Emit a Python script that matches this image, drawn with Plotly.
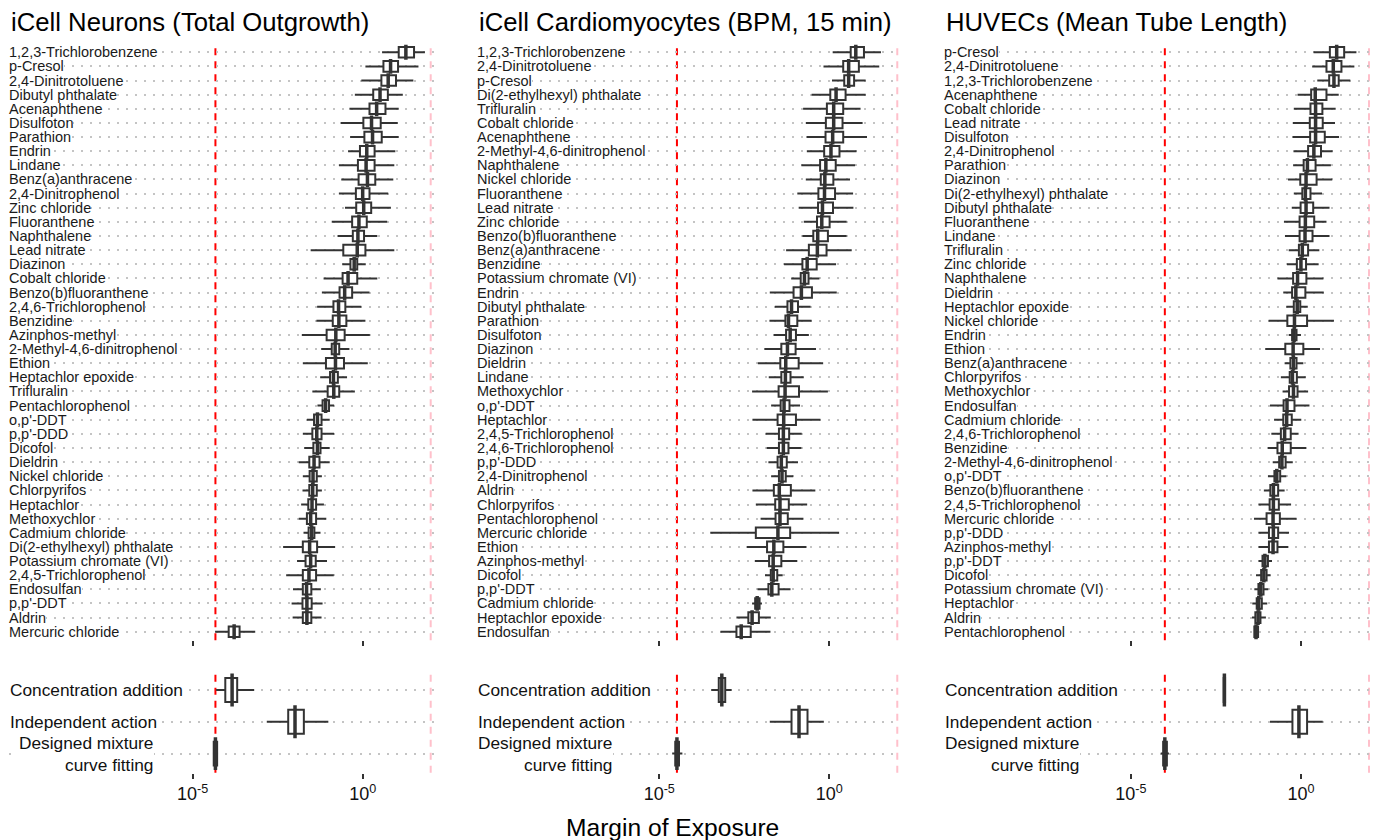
import plotly.graph_objects as go

FONT = "Liberation Sans, Arial, sans-serif"
BOX = "#333333"

titles = ["iCell Neurons (Total Outgrowth)",
          "iCell Cardiomyocytes (BPM, 15 min)",
          "HUVECs (Mean Tube Length)"]

# ---------------- iCell Neurons (log10 Margin of Exposure) ----------------
neu_names = ["1,2,3-Trichlorobenzene", "p-Cresol", "2,4-Dinitrotoluene", "Dibutyl phthalate",
             "Acenaphthene", "Disulfoton", "Parathion", "Endrin", "Lindane", "Benz(a)anthracene",
             "2,4-Dinitrophenol", "Zinc chloride", "Fluoranthene", "Naphthalene", "Lead nitrate",
             "Diazinon", "Cobalt chloride", "Benzo(b)fluoranthene", "2,4,6-Trichlorophenol",
             "Benzidine", "Azinphos-methyl", "2-Methyl-4,6-dinitrophenol", "Ethion",
             "Heptachlor epoxide", "Trifluralin", "Pentachlorophenol", "o,p'-DDT", "p,p'-DDD",
             "Dicofol", "Dieldrin", "Nickel chloride", "Chlorpyrifos", "Heptachlor",
             "Methoxychlor", "Cadmium chloride", "Di(2-ethylhexyl) phthalate",
             "Potassium chromate (VI)", "2,4,5-Trichlorophenol", "Endosulfan", "p,p'-DDT",
             "Aldrin", "Mercuric chloride"]
neu_lo = [0.57, 0.08, -0.04, -0.23, -0.39, -0.65, -0.37, -0.43, -0.70, -0.63, -0.70, -0.52,
          -0.91, -0.74, -1.53, -0.60, -1.15, -1.20, -1.34, -1.36, -1.79, -1.22, -1.76, -1.25,
          -1.48, -1.33, -1.64, -1.76, -1.72, -1.88, -1.76, -1.77, -1.81, -1.88, -1.74, -2.34,
          -1.93, -2.25, -2.05, -2.09, -2.06, -4.34]
neu_q1 = [1.06, 0.61, 0.55, 0.31, 0.20, 0.02, 0.05, -0.08, -0.14, -0.12, -0.20, -0.19,
          -0.31, -0.29, -0.57, -0.36, -0.59, -0.68, -0.86, -0.88, -1.06, -0.91, -1.08, -0.96,
          -1.03, -1.18, -1.43, -1.48, -1.45, -1.57, -1.56, -1.57, -1.60, -1.64, -1.59, -1.76,
          -1.68, -1.76, -1.76, -1.77, -1.76, -3.94]
neu_med = [1.27, 0.82, 0.75, 0.51, 0.41, 0.26, 0.29, 0.12, 0.10, 0.14, 0.00, 0.03,
           -0.11, -0.14, -0.16, -0.25, -0.43, -0.53, -0.71, -0.70, -0.79, -0.81, -0.80, -0.86,
           -0.85, -1.09, -1.33, -1.35, -1.33, -1.43, -1.46, -1.47, -1.49, -1.53, -1.50, -1.56,
           -1.53, -1.58, -1.65, -1.64, -1.64, -3.78]
neu_q3 = [1.51, 1.04, 0.98, 0.74, 0.67, 0.53, 0.56, 0.35, 0.35, 0.37, 0.20, 0.25,
          0.12, 0.04, 0.08, -0.16, -0.16, -0.31, -0.51, -0.48, -0.53, -0.69, -0.55, -0.73,
          -0.69, -0.99, -1.21, -1.21, -1.24, -1.27, -1.35, -1.35, -1.37, -1.37, -1.42, -1.34,
          -1.38, -1.37, -1.51, -1.50, -1.51, -3.62]
neu_hi = [1.83, 1.64, 1.49, 1.18, 1.06, 1.03, 1.06, 0.96, 0.93, 0.90, 0.75, 0.83,
          0.72, 0.43, 0.93, 0.09, 0.43, 0.20, -0.04, 0.08, 0.21, -0.39, 0.15, -0.46,
          -0.23, -0.84, -0.97, -0.84, -0.97, -0.97, -1.20, -1.20, -1.14, -1.07, -1.24, -0.81,
          -1.05, -0.85, -1.23, -1.18, -1.21, -3.16]

# ---------------- iCell Cardiomyocytes ----------------
car_names = ["1,2,3-Trichlorobenzene", "2,4-Dinitrotoluene", "p-Cresol",
             "Di(2-ethylhexyl) phthalate", "Trifluralin", "Cobalt chloride", "Acenaphthene",
             "2-Methyl-4,6-dinitrophenol", "Naphthalene", "Nickel chloride", "Fluoranthene",
             "Lead nitrate", "Zinc chloride", "Benzo(b)fluoranthene", "Benz(a)anthracene",
             "Benzidine", "Potassium chromate (VI)", "Endrin", "Dibutyl phthalate", "Parathion",
             "Disulfoton", "Diazinon", "Dieldrin", "Lindane", "Methoxychlor", "o,p'-DDT",
             "Heptachlor", "2,4,5-Trichlorophenol", "2,4,6-Trichlorophenol", "p,p'-DDD",
             "2,4-Dinitrophenol", "Aldrin", "Chlorpyrifos", "Pentachlorophenol",
             "Mercuric chloride", "Ethion", "Azinphos-methyl", "Dicofol", "p,p'-DDT",
             "Cadmium chloride", "Heptachlor epoxide", "Endosulfan"]
car_lo = [0.10, -0.17, 0.08, -0.52, -0.77, -0.69, -0.67, -0.66, -0.82, -0.69, -0.94, -0.90,
          -0.75, -0.79, -1.27, -1.33, -1.12, -1.75, -1.60, -1.76, -1.64, -1.91, -2.10, -1.78,
          -2.27, -1.71, -2.26, -1.87, -1.84, -1.79, -1.71, -2.26, -2.16, -2.02, -3.50, -2.43,
          -2.19, -1.89, -2.11, -2.27, -2.73, -3.20]
car_q1 = [0.63, 0.41, 0.44, 0.03, -0.07, -0.10, -0.11, -0.15, -0.27, -0.25, -0.32, -0.33,
          -0.36, -0.47, -0.60, -0.79, -0.84, -1.05, -1.23, -1.29, -1.27, -1.41, -1.44, -1.41,
          -1.49, -1.43, -1.52, -1.48, -1.48, -1.52, -1.48, -1.63, -1.59, -1.58, -2.16, -1.83,
          -1.77, -1.72, -1.79, -2.18, -2.38, -2.73]
car_med = [0.78, 0.57, 0.57, 0.20, 0.13, 0.13, 0.10, 0.05, -0.10, -0.13, -0.14, -0.20,
           -0.22, -0.34, -0.35, -0.65, -0.73, -0.82, -1.11, -1.20, -1.15, -1.23, -1.28, -1.29,
           -1.30, -1.33, -1.34, -1.35, -1.35, -1.41, -1.39, -1.47, -1.45, -1.45, -1.51, -1.63,
           -1.65, -1.65, -1.69, -2.12, -2.27, -2.59]
car_q3 = [1.02, 0.87, 0.73, 0.48, 0.41, 0.39, 0.41, 0.30, 0.19, 0.12, 0.17, 0.11,
          0.01, -0.04, -0.08, -0.37, -0.61, -0.51, -0.92, -0.94, -0.98, -0.99, -0.90, -1.14,
          -0.89, -1.17, -0.98, -1.18, -1.20, -1.25, -1.28, -1.13, -1.19, -1.22, -1.15, -1.35,
          -1.41, -1.53, -1.49, -2.05, -2.07, -2.31]
car_hi = [1.52, 1.47, 1.07, 1.07, 0.92, 0.98, 1.11, 0.80, 0.76, 0.61, 0.70, 0.71,
          0.51, 0.51, 0.66, 0.20, -0.29, 0.22, -0.55, -0.52, -0.60, -0.39, -0.18, -0.75,
          -0.04, -0.86, -0.26, -0.81, -0.82, -0.92, -1.06, -0.41, -0.65, -0.76, 0.29, -0.67,
          -0.94, -1.37, -1.14, -1.98, -1.72, -1.73]

# ---------------- HUVECs ----------------
huv_names = ["p-Cresol", "2,4-Dinitrotoluene", "1,2,3-Trichlorobenzene", "Acenaphthene",
             "Cobalt chloride", "Lead nitrate", "Disulfoton", "2,4-Dinitrophenol", "Parathion",
             "Diazinon", "Di(2-ethylhexyl) phthalate", "Dibutyl phthalate", "Fluoranthene",
             "Lindane", "Trifluralin", "Zinc chloride", "Naphthalene", "Dieldrin",
             "Heptachlor epoxide", "Nickel chloride", "Endrin", "Ethion", "Benz(a)anthracene",
             "Chlorpyrifos", "Methoxychlor", "Endosulfan", "Cadmium chloride",
             "2,4,6-Trichlorophenol", "Benzidine", "2-Methyl-4,6-dinitrophenol", "o,p'-DDT",
             "Benzo(b)fluoranthene", "2,4,5-Trichlorophenol", "Mercuric chloride", "p,p'-DDD",
             "Azinphos-methyl", "p,p'-DDT", "Dicofol", "Potassium chromate (VI)", "Heptachlor",
             "Aldrin", "Pentachlorophenol"]
huv_lo = [0.37, 0.33, 0.48, -0.10, -0.21, -0.24, -0.25, -0.22, -0.23, -0.38, -0.21, -0.27,
          -0.50, -0.47, -0.36, -0.41, -0.69, -0.52, -0.43, -0.95, -0.36, -1.05, -0.48, -0.59,
          -0.54, -0.91, -0.79, -0.87, -0.98, -0.83, -0.97, -1.09, -1.25, -1.38, -1.25, -1.25,
          -1.25, -1.32, -1.37, -1.43, -1.44, -1.38]
huv_q1 = [0.85, 0.75, 0.83, 0.30, 0.28, 0.26, 0.27, 0.21, 0.08, -0.02, 0.04, -0.01,
          -0.04, -0.04, -0.06, -0.12, -0.23, -0.26, -0.21, -0.40, -0.26, -0.46, -0.31, -0.33,
          -0.35, -0.51, -0.52, -0.59, -0.69, -0.64, -0.78, -0.90, -0.92, -1.01, -0.94, -0.94,
          -1.13, -1.17, -1.25, -1.30, -1.34, -1.37]
huv_med = [1.05, 0.95, 0.97, 0.42, 0.43, 0.43, 0.43, 0.38, 0.19, 0.15, 0.13, 0.15,
           0.13, 0.12, 0.04, 0.00, -0.10, -0.15, -0.11, -0.19, -0.20, -0.23, -0.22, -0.25,
           -0.22, -0.41, -0.42, -0.48, -0.55, -0.56, -0.71, -0.81, -0.81, -0.82, -0.81, -0.82,
           -1.06, -1.09, -1.18, -1.24, -1.26, -1.32]
huv_q3 = [1.27, 1.19, 1.11, 0.75, 0.63, 0.64, 0.70, 0.59, 0.43, 0.46, 0.28, 0.36,
          0.39, 0.34, 0.21, 0.15, 0.16, 0.13, -0.02, 0.18, -0.13, 0.07, -0.13, -0.12,
          -0.10, -0.19, -0.27, -0.30, -0.30, -0.45, -0.61, -0.67, -0.65, -0.62, -0.67, -0.69,
          -0.97, -1.01, -1.10, -1.15, -1.19, -1.26]
huv_hi = [1.63, 1.57, 1.45, 1.11, 1.02, 1.00, 1.12, 0.93, 0.88, 0.92, 0.62, 0.84,
          0.75, 0.84, 0.54, 0.52, 0.66, 0.67, 0.20, 0.97, 0.00, 0.56, 0.07, 0.14,
          0.21, 0.25, 0.01, -0.07, 0.16, -0.24, -0.43, -0.48, -0.29, -0.13, -0.35, -0.37,
          -0.85, -0.89, -0.96, -0.99, -1.03, -1.24]

# ---------------- Mixture predictions (log10 MOE) ----------------
mix_names = ["Concentration addition", "Independent action", "Designed mixture<br>curve fitting"]
neu_mix_lo = [-4.31, -2.82, -4.41]
neu_mix_q1 = [-4.04, -2.19, -4.38]
neu_mix_med = [-3.84, -1.99, -4.33]
neu_mix_q3 = [-3.69, -1.73, -4.28]
neu_mix_hi = [-3.19, -1.01, -4.25]

car_mix_lo = [-3.47, -1.75, -4.62]
car_mix_q1 = [-3.25, -1.11, -4.53]
car_mix_med = [-3.16, -0.89, -4.48]
car_mix_q3 = [-3.06, -0.64, -4.42]
car_mix_hi = [-2.87, -0.16, -4.32]

huv_mix_lo = [-2.28, -0.91, -4.12]
huv_mix_q1 = [-2.27, -0.25, -4.05]
huv_mix_med = [-2.25, -0.06, -4.00]
huv_mix_q3 = [-2.23, 0.18, -3.94]
huv_mix_hi = [-2.22, 0.64, -3.88]

upper_limit = 100  # pink reference line

panels = [
    dict(names=neu_names, lo=neu_lo, q1=neu_q1, med=neu_med, q3=neu_q3, hi=neu_hi,
         mlo=neu_mix_lo, mq1=neu_mix_q1, mmed=neu_mix_med, mq3=neu_mix_q3, mhi=neu_mix_hi),
    dict(names=car_names, lo=car_lo, q1=car_q1, med=car_med, q3=car_q3, hi=car_hi,
         mlo=car_mix_lo, mq1=car_mix_q1, mmed=car_mix_med, mq3=car_mix_q3, mhi=car_mix_hi),
    dict(names=huv_names, lo=huv_lo, q1=huv_q1, med=huv_med, q3=huv_q3, hi=huv_hi,
         mlo=huv_mix_lo, mq1=huv_mix_q1, mmed=huv_mix_med, mq3=huv_mix_q3, mhi=huv_mix_hi),
]

# layout geometry (pixels)
W, H = 1374, 840
x_px = [(9, 434), (477, 900), (944, 1372)]
x_rng = [(-10.40, 2.097), (-10.36, 2.08), (-10.49, 2.088)]
up_dom = [1 - 640.2 / H, 1 - 43.8 / H]
lo_dom = [1 - 772.7 / H, 1 - 670.9 / H]
dm_shift = [9, 0, 0]

fig = go.Figure()
shapes = []
annotations = []
layout_axes = {}


def p10(v):
    return [10 ** x for x in v]


def add_boxes(xa, ya, pos, lo, q1, med, q3, hi, med_size):
    fig.add_trace(go.Box(
        orientation="h", y=pos, q1=p10(q1), median=p10(med), q3=p10(q3),
        lowerfence=p10(lo), upperfence=p10(hi), width=0.75, whiskerwidth=0,
        fillcolor="white", line=dict(color=BOX, width=2), boxpoints=False,
        xaxis=xa, yaxis=ya, hoverinfo="skip", showlegend=False))
    fig.add_trace(go.Scatter(
        x=p10(med), y=pos, mode="markers", xaxis=xa, yaxis=ya,
        marker=dict(symbol="line-ns", size=med_size, line=dict(width=3.5, color=BOX)),
        hoverinfo="skip", showlegend=False))


for p, d in enumerate(panels):
    iu, il = 2 * p + 1, 2 * p + 2
    xu = "x" if iu == 1 else f"x{iu}"
    yu = "y" if iu == 1 else f"y{iu}"
    xl, yl = f"x{il}", f"y{il}"
    dom = [x_px[p][0] / W, x_px[p][1] / W]

    n = len(d["names"])
    pos = list(range(n - 1, -1, -1))
    add_boxes(xu, yu, pos, d["lo"], d["q1"], d["med"], d["q3"], d["hi"], 10.6)
    m = len(mix_names)
    mpos = list(range(m - 1, -1, -1))
    add_boxes(xl, yl, mpos, d["mlo"], d["mq1"], d["mmed"], d["mq3"], d["mhi"], 23.5)

    common_x = dict(type="log", range=list(x_rng[p]), domain=dom, showgrid=False,
                    zeroline=False, showline=False, ticks="outside", ticklen=5,
                    tickwidth=2, tickcolor=BOX, tickvals=[1e-5, 1])
    layout_axes["xaxis" if iu == 1 else f"xaxis{iu}"] = dict(
        common_x, anchor=yu, showticklabels=False)
    layout_axes[f"xaxis{il}"] = dict(
        common_x, anchor=yl, showticklabels=True,
        ticktext=["10<sup>-5</sup>", "10<sup>0</sup>"],
        tickfont=dict(size=18, color="#111111", family=FONT))
    grid = dict(showgrid=True, gridcolor="#c4c4c4", gridwidth=2, griddash="2px,7px",
                zeroline=False, showline=False, showticklabels=False, ticks="")
    layout_axes["yaxis" if iu == 1 else f"yaxis{iu}"] = dict(
        grid, domain=up_dom, range=[-0.6, n - 0.4], tickvals=pos, anchor=xu)
    layout_axes[f"yaxis{il}"] = dict(
        grid, domain=lo_dom, range=[-0.6, m - 0.4], tickvals=mpos, anchor=xl)

    red_x = 10 ** d["mmed"][2]
    for xa, ya in ((xu, yu), (xl, yl)):
        shapes.append(dict(type="line", xref=xa, yref=f"{ya} domain", x0=red_x, x1=red_x,
                           y0=0, y1=1, line=dict(color="#ff0000", width=2, dash="7px,6px"),
                           layer="below"))
        shapes.append(dict(type="line", xref=xa, yref=f"{ya} domain", x0=upper_limit,
                           x1=upper_limit, y0=0, y1=1,
                           line=dict(color="#ffc0cb", width=2, dash="7px,6px"), layer="below"))

    # add bottom rows first so upper labels' white boxes never cover descenders
    for name, yv in reversed(list(zip(d["names"], pos))):
        annotations.append(dict(text=name, xref=f"{xu} domain", x=0, xanchor="left",
                                yref=yu, y=yv, yanchor="middle", showarrow=False,
                                bgcolor="white", borderpad=0, borderwidth=0,
                                font=dict(size=14.5, color="#1a1a1a", family=FONT)))
    for k, (name, yv) in enumerate(zip(mix_names, mpos)):
        annotations.append(dict(text=name, xref=f"{xl} domain", x=0, xanchor="left",
                                xshift=dm_shift[p] if k == 2 else 0,
                                yref=yl, y=yv, yanchor="middle", showarrow=False,
                                align="right", bgcolor="white", borderpad=1, borderwidth=0,
                                font=dict(size=17.3, color="#111111", family=FONT)))
    annotations.append(dict(text=titles[p], xref=f"{xu} domain", x=0, xanchor="left",
                            yref="paper", y=1 - 22 / H, yanchor="middle", showarrow=False,
                            font=dict(size=25.7, color="#000000", family=FONT)))

annotations.append(dict(text="Margin of Exposure", xref="paper", x=672.5 / W, xanchor="center",
                        yref="paper", y=1 - 827 / H, yanchor="middle", showarrow=False,
                        font=dict(size=24.6, color="#000000", family=FONT)))

fig.update_layout(width=W, height=H, margin=dict(l=0, r=0, t=0, b=0),
                  paper_bgcolor="white", plot_bgcolor="white", boxmode="overlay",
                  shapes=shapes, annotations=annotations, font=dict(family=FONT),
                  **layout_axes)

fig.write_html("out.html")
